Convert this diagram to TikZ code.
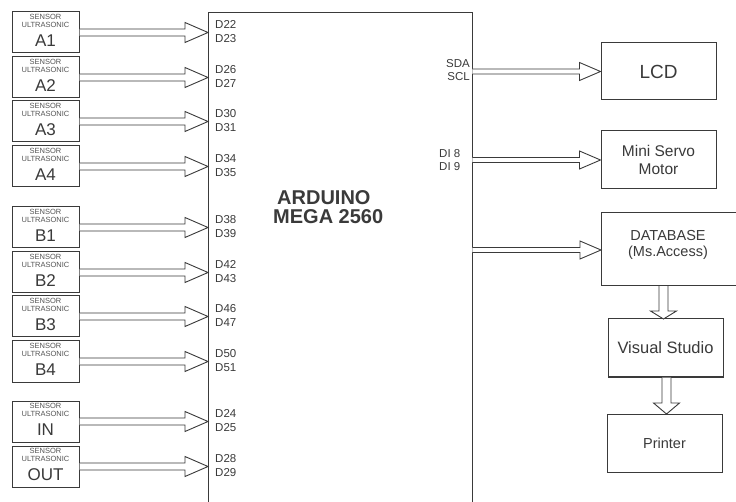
\documentclass[tikz,border=0pt]{standalone}
\usepackage{fontspec}
\setmainfont{Liberation Sans}
\usetikzlibrary{calc}
\definecolor{ink}{HTML}{3A3A3A}
\definecolor{soft}{HTML}{555555}
\tikzset{
  box/.style={draw=ink, line width=1pt, inner sep=0pt, fill=white},
  sensor/.style={box, minimum width=67pt, minimum height=41pt},
  arr/.style={draw=ink, line width=0.9pt, fill=white, line join=miter},
  txt/.style={text=ink, inner sep=0pt},
  pin/.style={txt, font=\fontsize{11.5}{13.5}\selectfont, align=left, anchor=west},
  small/.style={txt, text=soft, font=\fontsize{7.5}{7.5}\selectfont},
  big/.style={txt, font=\fontsize{17}{17}\selectfont},
  title/.style={txt, font=\fontsize{20}{20}\bfseries, anchor=west},
}
% horizontal hollow arrow: from, to, shaft half width, head half width, head length
\newcommand{\harrow}[5]{%
  \filldraw[arr] let \p1=#1, \p2=#2 in
    (\x1,\y2+#3pt) -- (\x2-#5pt,\y2+#3pt) -- (\x2-#5pt,\y2+#4pt) -- (\x2,\y2)
    -- (\x2-#5pt,\y2-#4pt) -- (\x2-#5pt,\y2-#3pt) -- (\x1,\y2-#3pt);}
% vertical (downward) hollow arrow
\newcommand{\varrow}[5]{%
  \filldraw[arr] let \p1=#1, \p2=#2 in
    (\x2-#3pt,\y1) -- (\x2-#3pt,\y2+#5pt) -- (\x2-#4pt,\y2+#5pt) -- (\x2,\y2)
    -- (\x2+#4pt,\y2+#5pt) -- (\x2+#3pt,\y2+#5pt) -- (\x2+#3pt,\y1);}
\newcommand{\sensorbox}[4]{% name, center y, label, pins
  \node[sensor] (#1) at (45.5,#2) {};
  \node[small] (#1s) at ($(#1.north)+(0,5)$) {SENSOR};
  \node[small] (#1u) at ($(#1.north)+(0,13)$) {ULTRASONIC};
  \node[big] (#1l) at ($(#1.north)+(0,29)$) {#3};
  \harrow{(#1.east)}{(#1.east -| ard.west)}{3.5}{10}{23}
  \node[pin] (#1p) at ($(#1.east -| ard.west)+(7,-1)$) {#4};
}
\begin{document}
\begin{tikzpicture}[x=1pt,y=-1pt]
\useasboundingbox (0,0) rectangle (736,502);
% Arduino
\draw[draw=ink, line width=1pt] (208,520) -- (208,13) -- (472,13) -- (472,520);
\node[inner sep=0pt, minimum width=264pt, minimum height=520pt, anchor=north west] (ard) at (208,13) {};
\node[title] (ardt1) at (277,198) {ARDUINO};
\node[title] (ardt2) at (273,216.5) {MEGA 2560};

\sensorbox{a1}{32.5}{A1}{D22\\D23}
\sensorbox{a2}{77.5}{A2}{D26\\D27}
\sensorbox{a3}{121.5}{A3}{D30\\D31}
\sensorbox{a4}{166.5}{A4}{D34\\D35}
\sensorbox{b1}{227.5}{B1}{D38\\D39}
\sensorbox{b2}{272.5}{B2}{D42\\D43}
\sensorbox{b3}{316.5}{B3}{D46\\D47}
\sensorbox{b4}{361.5}{B4}{D50\\D51}
\sensorbox{in}{421.5}{IN}{D24\\D25}
\sensorbox{out}{466.5}{OUT}{D28\\D29}

% right side
\node[box, minimum width=115pt, minimum height=57pt, font=\fontsize{19}{19}\selectfont, text=ink] (lcd) at (658.5,71.5) {LCD};
\node[box, minimum width=115pt, minimum height=58pt, font=\fontsize{15.5}{18}\selectfont, text=ink, align=center] (servo) at (658.5,160) {Mini Servo\\Motor};
\draw[draw=ink, line width=1pt, fill=white] (745,212.5) -- (601,212.5) -- (601,286) -- (745,286);
\node[inner sep=0pt, minimum width=144pt, minimum height=73.5pt] (db) at (673,249.25) {};
\node[txt, font=\fontsize{14.5}{16}\selectfont, align=center] (dbt) at (668,245) {DATABASE\\(Ms.Access)};
\node[box, minimum width=115pt, minimum height=58pt, font=\fontsize{16.5}{16}\selectfont, text=ink] (vs) at (665.5,348) {Visual Studio};
\node[box, minimum width=115pt, minimum height=58pt, font=\fontsize{14.5}{14}\selectfont, text=ink] (pr) at (664.5,443) {Printer};

\harrow{(ard.east |- lcd.west)}{(lcd.west)}{2.5}{9}{21}
\harrow{(ard.east |- servo.west)}{(servo.west)}{2.5}{9}{21}
\coordinate (dbin) at (601,250);
\harrow{(ard.east |- dbin)}{(dbin)}{2.5}{9}{21}
\node[txt, font=\fontsize{11.5}{13.5}\selectfont, align=right, anchor=east] (sda) at (470,70) {SDA\\SCL};
\node[pin] (di) at (439,160) {DI 8\\DI 9};

\coordinate (v1) at (663.5,319);
\varrow{(v1 |- db.south)}{(v1)}{4.5}{13}{8}
\coordinate (v2) at (666.5,414);
\varrow{(v2 |- vs.south)}{(v2)}{4.5}{13}{11}
\end{tikzpicture}
\end{document}
